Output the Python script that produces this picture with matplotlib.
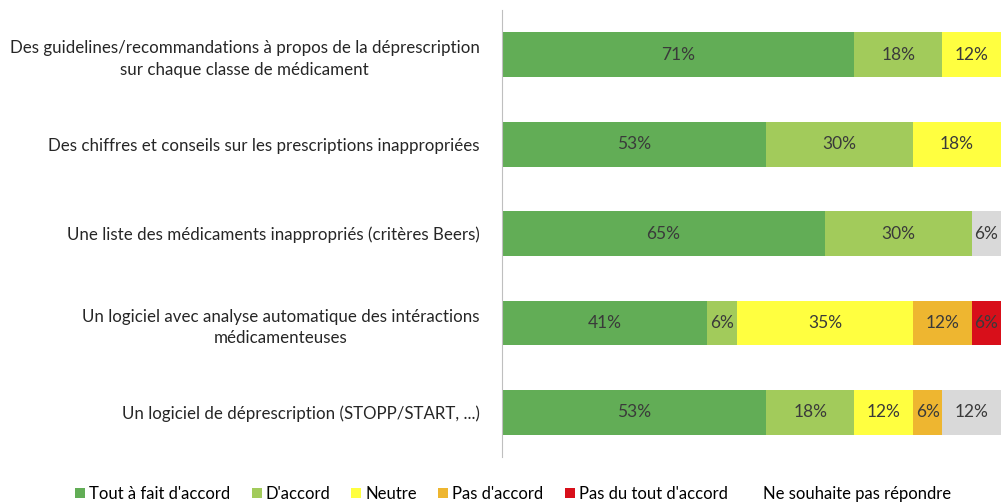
import matplotlib.pyplot as plt

# 17 respondents, number of answers per category
categories = [
    "Des guidelines/recommandations à propos de la déprescription\nsur chaque classe de médicament",
    "Des chiffres et conseils sur les prescriptions inappropriées",
    "Une liste des médicaments inappropriés (critères Beers)",
    "Un logiciel avec analyse automatique des intéractions\nmédicamenteuses",
    "Un logiciel de déprescription (STOPP/START, ...)",
]
n_resp = 17
answers = ["Tout à fait d'accord", "D'accord", "Neutre", "Pas d'accord",
           "Pas du tout d'accord", "Ne souhaite pas répondre"]
counts = {
    "Tout à fait d'accord": [12, 9, 11, 7, 9],
    "D'accord": [3, 5, 5, 1, 3],
    "Neutre": [2, 3, 0, 6, 2],
    "Pas d'accord": [0, 0, 0, 2, 1],
    "Pas du tout d'accord": [0, 0, 0, 1, 0],
    "Ne souhaite pas répondre": [0, 0, 1, 0, 2],
}
# labels as printed on the chart
labels_txt = {
    "Tout à fait d'accord": ["71%", "53%", "65%", "41%", "53%"],
    "D'accord": ["18%", "30%", "30%", "6%", "18%"],
    "Neutre": ["12%", "18%", "", "35%", "12%"],
    "Pas d'accord": ["", "", "", "12%", "6%"],
    "Pas du tout d'accord": ["", "", "", "6%", ""],
    "Ne souhaite pas répondre": ["", "", "6%", "", "12%"],
}
colors = ["#62ad56", "#a2cb5b", "#ffff40", "#eeb630", "#d80f1a", "#d9d9d9"]

plt.rcParams['font.family'] = ['Lato', 'DejaVu Sans']

fig = plt.figure(figsize=(10.06, 5.04), dpi=100)
ax = fig.add_axes([0.499, 0.093, 0.501, 0.887])

y = list(range(len(categories)))
left = [0.0] * len(categories)
for name, col in zip(answers, colors):
    pct = [100 * c / n_resp for c in counts[name]]
    ax.barh(y, pct, left=left, height=0.5, color=col, label=name)
    for i, p in enumerate(pct):
        if p > 0:
            ax.text(left[i] + p / 2, i, labels_txt[name][i], ha='center', va='center',
                    fontsize=12.5, color='#3a3a3a')
    left = [l + p for l, p in zip(left, pct)]

ax.set_xlim(0, 101)
ax.set_ylim(4.5, -0.5)
ax.set_yticks(y)
ax.set_yticklabels(categories, fontsize=12.2, color='#262626',
                   multialignment='center', linespacing=1.45)
ax.tick_params(axis='y', length=0, pad=16)
ax.set_xticks([])
for s in ['top', 'right', 'bottom']:
    ax.spines[s].set_visible(False)
ax.spines['left'].set_color('#bfbfbf')

handles, labels = ax.get_legend_handles_labels()
leg = fig.legend(handles, labels, loc='center', bbox_to_anchor=(0.51, 0.02), ncol=6,
                 frameon=False, fontsize=12, handlelength=0.6, handleheight=0.6,
                 handletextpad=0.25, columnspacing=1.26)
# last legend square is not visible on the original
leg.legend_handles[-1].set_alpha(0)

fig.savefig("out.png", dpi=100)
